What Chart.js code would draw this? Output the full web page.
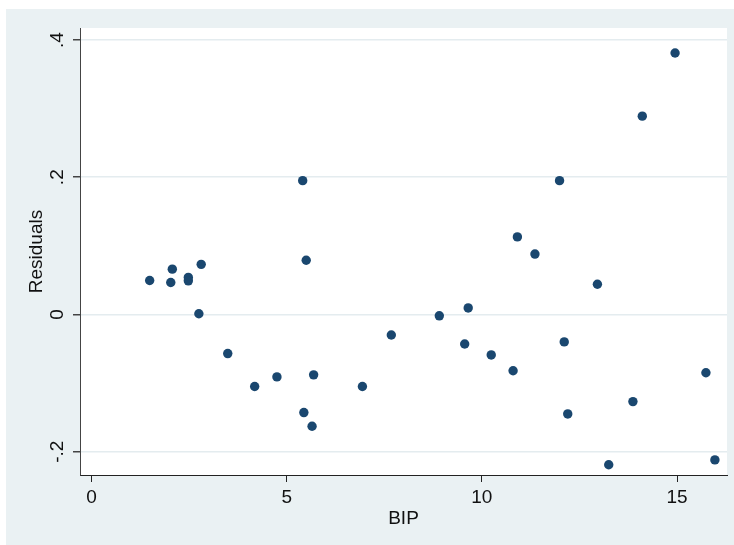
<!DOCTYPE html>
<html>
<head>
<meta charset="utf-8">
<script src="https://cdn.jsdelivr.net/npm/chart.js@4"></script>
<style>
  html, body { margin: 0; padding: 0; background: #fff; }
  #wrap { width: 734px; height: 545px; }
</style>
</head>
<body>
<div id="wrap"><canvas id="residPlot" width="734" height="545"></canvas></div>
<script>
// values
const bipValues = [1.49, 2.03, 2.07, 2.48, 2.48, 2.81, 2.75, 3.49, 4.18, 4.75,
  5.41, 5.50, 5.44, 5.65, 5.69, 6.94, 7.68, 8.91, 9.65, 9.56,
  10.24, 10.80, 10.91, 11.36, 11.99, 12.11, 12.20, 12.96, 13.25, 13.87,
  14.11, 14.95, 15.74, 15.97];
const residualValues = [0.0495, 0.0465, 0.066, 0.054, 0.049, 0.073, 0.001, -0.057, -0.105, -0.091,
  0.195, 0.079, -0.143, -0.163, -0.088, -0.105, -0.030, -0.002, 0.0095, -0.043,
  -0.059, -0.082, 0.113, 0.088, 0.195, -0.040, -0.145, 0.044, -0.219, -0.127,
  0.289, 0.381, -0.085, -0.212];
const xTickValues = [0, 5, 10, 15];
const yTickValues = [-0.2, 0, 0.2, 0.4];
const yTickLabels = ['-.2', '0', '.2', '.4'];

const FONT = 'Liberation Sans, Arial, Helvetica, sans-serif';
const points = bipValues.map((x, i) => ({ x: x, y: residualValues[i] }));

// outer light region + white plot area (Stata look)
const backdrop = {
  id: 'backdrop',
  beforeDraw(chart) {
    const c = chart.ctx, a = chart.chartArea;
    c.save();
    c.fillStyle = '#fff';
    c.fillRect(0, 0, chart.width, chart.height);
    c.fillStyle = '#EAF1F3';
    c.fillRect(6, 9, chart.width - 6, chart.height - 9);
    c.fillStyle = '#fff';
    c.fillRect(a.left, a.top, a.right - a.left, a.bottom - a.top);
    c.restore();
  }
};

// y tick labels are rotated in the original, draw them here
const rotatedYLabels = {
  id: 'rotatedYLabels',
  afterDraw(chart) {
    const c = chart.ctx, ys = chart.scales.y;
    c.save();
    c.font = '19px ' + FONT;
    c.fillStyle = '#111';
    c.textAlign = 'center';
    c.textBaseline = 'alphabetic';
    yTickValues.forEach((v, i) => {
      const py = ys.getPixelForValue(v);
      c.save();
      c.translate(63, py);
      c.rotate(-Math.PI / 2);
      c.fillText(yTickLabels[i], 0, 0);
      c.restore();
    });
    c.restore();
  }
};

new Chart(document.getElementById('residPlot'), {
  type: 'scatter',
  data: {
    datasets: [{
      data: points,
      backgroundColor: '#1A476F',
      borderWidth: 0,
      pointRadius: 4.7,
      pointHoverRadius: 4.7
    }]
  },
  options: {
    responsive: false,
    animation: false,
    layout: { padding: { left: 0, top: 28, right: 7, bottom: 0 } },
    plugins: { legend: { display: false }, tooltip: { enabled: false } },
    scales: {
      x: {
        type: 'linear',
        min: -0.295,
        max: 16.28,
        afterBuildTicks(s) { s.ticks = xTickValues.map(v => ({ value: v })); },
        afterFit(s) { s.height = 70; },
        border: { color: '#222', width: 1 },
        grid: { drawOnChartArea: false, drawTicks: true, tickLength: 7, tickColor: '#222' },
        ticks: { color: '#111', font: { family: FONT, size: 19 }, padding: 4, maxRotation: 0 },
        title: { display: true, text: 'BIP', color: '#111', font: { family: FONT, size: 19 }, padding: { top: 0, bottom: 15 } }
      },
      y: {
        type: 'linear',
        min: -0.234,
        max: 0.4175,
        afterBuildTicks(s) { s.ticks = yTickValues.map(v => ({ value: v })); },
        afterFit(s) { s.width = 80; },
        border: { color: '#444', width: 1 },
        grid: { color: '#E4ECEF', lineWidth: 1.5, drawTicks: true, tickLength: 7, tickColor: '#444' },
        ticks: { color: 'rgba(0,0,0,0)', font: { family: FONT, size: 19 } },
        title: { display: true, text: 'Residuals', color: '#111', font: { family: FONT, size: 19 }, padding: { top: 25, bottom: 0 } }
      }
    }
  },
  plugins: [backdrop, rotatedYLabels]
});
</script>
</body>
</html>
